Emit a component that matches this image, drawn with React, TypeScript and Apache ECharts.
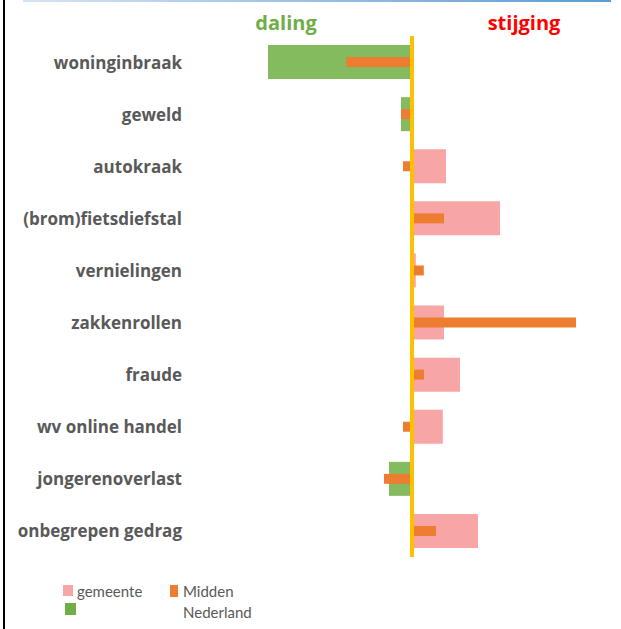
import React, { useEffect, useRef } from "react";
import * as echarts from "echarts";

const categories = [
  "woninginbraak",
  "geweld",
  "autokraak",
  "(brom)fietsdiefstal",
  "vernielingen",
  "zakkenrollen",
  "fraude",
  "wv online handel",
  "jongerenoverlast",
  "onbegrepen gedrag",
];
const gemeente = [-72, -5.5, 17, 44, 1.9, 16, 24, 15.4, -11.5, 33];
const middenNederland = [-33, -5.5, -4.5, 16, 5.9, 82, 6, -4.5, -14, 12];

const PINK = "#F8A5A5";
const GREEN_BAR = "#84BB5F";
const GREEN = "#70AD47";
const ORANGE = "#ED7D31";
const GOLD = "#FFC000";
const GRAY = "#595959";

export default function App() {
  const ref = useRef<HTMLDivElement>(null);
  useEffect(() => {
    if (!ref.current) return;
    const chart = echarts.init(ref.current, null, { renderer: "svg" });
    const font = "Lato, 'Noto Sans', sans-serif";
    const labelFont = "'Open Sans', Lato, sans-serif";
    chart.setOption({
      animation: false,
      backgroundColor: "#ffffff",
      grid: { left: 212, width: 400, top: 36, height: 521, containLabel: false },
      xAxis: {
        type: "value",
        min: -100,
        max: 100,
        show: false,
        splitLine: { show: false },
      },
      yAxis: [
        {
          type: "category",
          data: categories,
          inverse: true,
          axisLine: { show: false },
          axisTick: { show: false },
          axisLabel: {
            margin: 30,
            color: GRAY,
            fontSize: 17,
            fontWeight: "bold",
            fontFamily: labelFont,
          },
        },
        {
          type: "category",
          data: categories,
          inverse: true,
          show: false,
        },
      ],
      series: [
        {
          name: "gemeente",
          type: "bar",
          yAxisIndex: 0,
          barWidth: 34,
          data: gemeente.map((v) => ({
            value: v,
            itemStyle: { color: v < 0 ? GREEN_BAR : PINK },
          })),
          z: 2,
        },
        {
          name: "Midden Nederland",
          type: "bar",
          yAxisIndex: 1,
          barWidth: 10,
          itemStyle: { color: ORANGE },
          data: middenNederland,
          z: 3,
          markLine: {
            silent: true,
            symbol: "none",
            label: { show: false },
            lineStyle: { color: GOLD, width: 4, type: "solid" },
            data: [{ xAxis: 0 }],
            z: 5,
          },
        },
      ],
      graphic: [
        {
          type: "rect",
          shape: { x: 3, y: 0, width: 2, height: 629 },
          style: { fill: "#000000" },
        },
        {
          type: "rect",
          shape: { x: 23, y: 0, width: 588, height: 2 },
          style: {
            fill: new echarts.graphic.LinearGradient(0, 0, 1, 0, [
              { offset: 0, color: "#D6E4F3" },
              { offset: 1, color: "#5B9BD5" },
            ]),
          },
        },
        {
          type: "text",
          x: 286,
          y: 22,
          style: {
            text: "daling",
            fill: GREEN,
            font: `bold 20px ${labelFont}`,
            textAlign: "center",
            textVerticalAlign: "middle",
          },
        },
        {
          type: "text",
          x: 524,
          y: 22,
          style: {
            text: "stijging",
            fill: "#FF0000",
            font: `bold 20px ${labelFont}`,
            textAlign: "center",
            textVerticalAlign: "middle",
          },
        },
        {
          type: "rect",
          shape: { x: 63, y: 585, width: 10, height: 11 },
          style: { fill: PINK },
        },
        {
          type: "text",
          x: 77,
          y: 591,
          style: {
            text: "gemeente",
            fill: GRAY,
            font: `15px ${font}`,
            textVerticalAlign: "middle",
          },
        },
        {
          type: "rect",
          shape: { x: 65, y: 603, width: 11, height: 12 },
          style: { fill: GREEN },
        },
        {
          type: "rect",
          shape: { x: 170, y: 585, width: 8, height: 12 },
          style: { fill: ORANGE },
        },
        {
          type: "text",
          x: 183,
          y: 591,
          style: {
            text: "Midden",
            fill: GRAY,
            font: `15px ${font}`,
            textVerticalAlign: "middle",
          },
        },
        {
          type: "text",
          x: 183,
          y: 612,
          style: {
            text: "Nederland",
            fill: GRAY,
            font: `15px ${font}`,
            textVerticalAlign: "middle",
          },
        },
      ],
    });
    return () => chart.dispose();
  }, []);
  return (
    <div
      ref={ref}
      style={{ position: "absolute", left: 0, top: 0, width: 621, height: 629 }}
    />
  );
}
